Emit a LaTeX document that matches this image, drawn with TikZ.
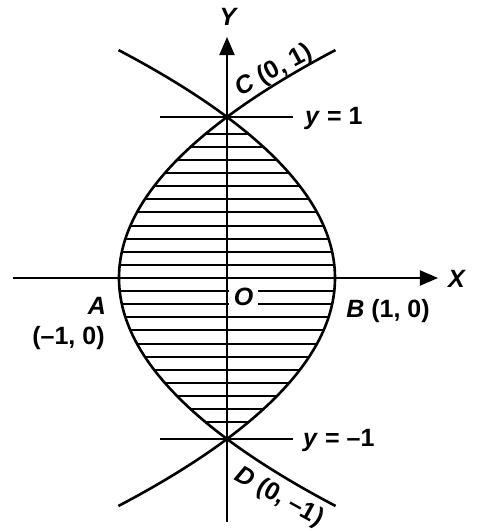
\documentclass[tikz,border=0pt]{standalone}
\usepackage{fontspec}
\setmainfont{Liberation Sans}
\usetikzlibrary{arrows.meta}
\begin{document}
\begin{tikzpicture}[x=1pt,y=1pt,
  lbl/.style={font=\fontsize{25}{27}\selectfont\bfseries, inner sep=0pt},
  axisline/.style={line width=2pt, -{Triangle[length=18pt,width=15pt]}},
  curveline/.style={line width=2.6pt},
  hatchline/.style={line width=2pt},
  levelline/.style={line width=2pt}]
\useasboundingbox (-227,-253) rectangle (250,278);
% hatching
\foreach \k in {-11,...,-1,1,2,...,11}{
  \pgfmathsetmacro\yy{round(13.1*\k)}
  \pgfmathsetmacro\ww{108*(1-(\yy/161)^2)}
  \draw[hatchline] (-\ww,\yy) -- (\ww,\yy);
}
% O label with white box
\node[lbl, fill=white, minimum width=29pt, minimum height=29pt] (Olab) at (16.5,-18.5) {\textit{O}};
% named points
\coordinate (O) at (0,0);
\coordinate (C) at (0,161);
\coordinate (D) at (0,-161);
\coordinate (A) at (-108,0);
\coordinate (B) at (108,0);
\coordinate (xs) at (-214,0);
\coordinate (xe) at (211,0);
\coordinate (ys) at (0,-244);
\coordinate (ye) at (0,241);
\coordinate (c1l) at (-67,161);
\coordinate (c1r) at (66,161);
\coordinate (d1l) at (-67,-161);
\coordinate (d1r) at (66,-161);
% axes
\draw[axisline] (xs) -- (xe);
\draw[axisline] (ys) -- (ye);
% lines y=1, y=-1
\draw[levelline] (c1l) -- (c1r);
\draw[levelline] (d1l) -- (d1r);
% parabolas
\draw[curveline] plot[domain=-1.416:1.416, samples=80, smooth, variable=\t] ({108*(1-\t*\t)}, {161*\t});
\draw[curveline] plot[domain=-1.416:1.416, samples=80, smooth, variable=\t] ({108*(\t*\t-1)}, {161*\t});
% labels
\node[lbl] (Ylab) at (2,261) {\textit{Y}};
\node[lbl] (Xlab) at (230,-1) {\textit{X}};
\node[lbl, anchor=base west] (y1) at (78,154) {\textit{y} = 1};
\node[lbl, anchor=base west] (ym1) at (76,-168) {\textit{y} = –1};
\node[lbl, rotate=28] (Clab) at (47,207) {\textit{C} (0, 1)};
\node[lbl, rotate=-29] (Dlab) at (52,-219) {\textit{D} (0, –1)};
\node[lbl] (Alab) at (-130,-28) {\textit{A}};
\node[lbl] (Acoord) at (-158.5,-60) {(–1, 0)};
\node[lbl] (Blab) at (161,-33) {\textit{B} (1, 0)};
\end{tikzpicture}
\end{document}
